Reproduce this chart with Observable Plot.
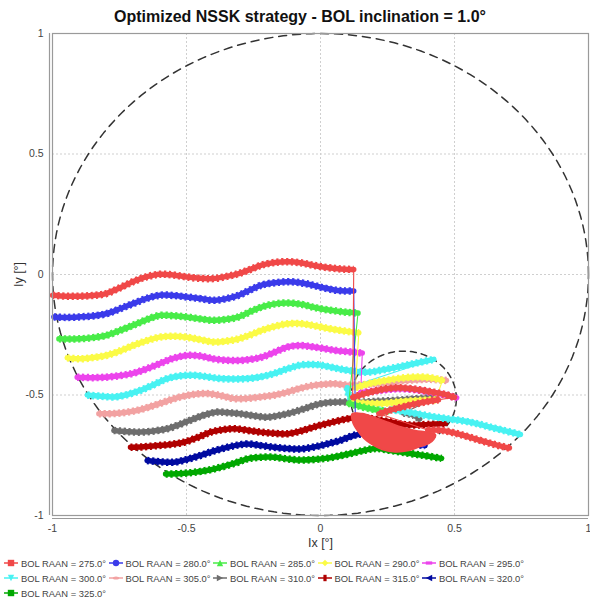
<!DOCTYPE html>
<html>
<head>
<meta charset="utf-8">
<script src="https://cdn.jsdelivr.net/npm/d3@7"></script>
<script src="https://cdn.jsdelivr.net/npm/@observablehq/plot@0.6"></script>
<style>
  body { margin: 0; background: #fff; }
  #wrap { position: relative; width: 590px; height: 601px; font-family: "Liberation Sans", Arial, sans-serif; overflow: hidden; }
  #title { position: absolute; left: 5px; width: 590px; top: 7px; line-height: 20px; text-align: center; font-weight: bold; font-size: 16px; color: #111; }
  #chart { position: absolute; left: 0; top: 26px; }
  .leg { position: absolute; height: 12px; display: flex; align-items: center; font-size: 9.4px; color: #444; white-space: nowrap; }
  .leg svg { margin-right: 3px; }
</style>
</head>
<body>
<div id="wrap">
  <div id="title">Optimized NSSK strategy - BOL inclination = 1.0°</div>
  <div id="chart"></div>
  <div id="legend"></div>
</div>
<script>
// Series labels, colours and legend marker shapes
const raanLabels = ["275.0", "280.0", "285.0", "290.0", "295.0", "300.0", "305.0", "310.0", "315.0", "320.0", "325.0"];
const seriesColors = ["#f04848", "#3b3bea", "#48ec48", "#fbfb46", "#ec44ec", "#48f2f2", "#f2a2a2", "#6e6e6e", "#b00000", "#000aa0", "#00a800"];
const markerShapes = ["square", "circle", "triangle-up", "diamond", "rect-h", "triangle-down", "ellipse-h", "triangle-right", "rect-v", "triangle-left", "square"];

// Axis ticks and grid
const xTicks = [-1, -0.5, 0, 0.5, 1];
const yTicks = [-1, -0.5, 0, 0.5, 1];
const gridValues = [-0.5, 0, 0.5];

// Inclination limit circle and the deadband circle (Ix, Iy in degrees)
const limitCircle = {cx: 0, cy: 0, r: 1};
const deadbandCircle = {cx: 0.31, cy: -0.515, r: 0.197};

// Inclination vector tracks [Ix, Iy], one list of segments per BOL RAAN
const track275 = [
  [[-1.00,-0.086],[-0.95,-0.09],[-0.90,-0.09],[-0.85,-0.087],[-0.80,-0.079],[-0.75,-0.056],[-0.70,-0.03],[-0.65,-0.01],[-0.60,0.001],[-0.55,-0.002],[-0.50,-0.01],[-0.45,-0.016],[-0.40,-0.017],[-0.35,-0.008],[-0.305,0.004],[-0.26,0.022],[-0.22,0.039],[-0.17,0.05],[-0.12,0.053],[-0.07,0.048],[-0.03,0.039],[0.01,0.031],[0.056,0.025],[0.09,0.022],[0.124,0.021]],
  [[0.12,-0.51],[0.18,-0.49],[0.243,-0.474],[0.30,-0.47],[0.367,-0.478],[0.42,-0.488],[0.466,-0.498],[0.50,-0.51]],
  [[0.44,-0.52],[0.40,-0.527],[0.35,-0.538],[0.305,-0.55],[0.26,-0.563],[0.218,-0.578]],
  [[0.40,-0.645],[0.448,-0.646],[0.49,-0.655],[0.535,-0.668],[0.58,-0.683],[0.622,-0.697],[0.665,-0.71],[0.705,-0.72]]
];
const blob275 = [[0.118,-0.578],[0.156,-0.577],[0.205,-0.594],[0.255,-0.614],[0.305,-0.634],[0.354,-0.647],[0.398,-0.654],[0.429,-0.664],[0.423,-0.684],[0.404,-0.702],[0.367,-0.716],[0.33,-0.73],[0.28,-0.736],[0.23,-0.726],[0.193,-0.706],[0.162,-0.68],[0.137,-0.647],[0.12,-0.612]];
const track280 = [
  [[-0.995,-0.176],[-0.95,-0.178],[-0.90,-0.176],[-0.85,-0.172],[-0.80,-0.163],[-0.75,-0.143],[-0.70,-0.121],[-0.65,-0.10],[-0.60,-0.086],[-0.55,-0.087],[-0.50,-0.093],[-0.45,-0.10],[-0.40,-0.107],[-0.35,-0.10],[-0.305,-0.086],[-0.26,-0.063],[-0.22,-0.044],[-0.17,-0.034],[-0.12,-0.03],[-0.07,-0.035],[-0.03,-0.044],[0.01,-0.055],[0.056,-0.065],[0.09,-0.068],[0.124,-0.068]],
  [[0.13,-0.60],[0.20,-0.65],[0.30,-0.69],[0.385,-0.705]]
];
const track285 = [
  [[-0.976,-0.267],[-0.94,-0.268],[-0.90,-0.267],[-0.85,-0.262],[-0.80,-0.253],[-0.75,-0.233],[-0.70,-0.211],[-0.65,-0.188],[-0.60,-0.17],[-0.55,-0.171],[-0.50,-0.176],[-0.45,-0.184],[-0.40,-0.19],[-0.35,-0.186],[-0.305,-0.176],[-0.26,-0.153],[-0.22,-0.135],[-0.17,-0.122],[-0.12,-0.118],[-0.07,-0.124],[-0.03,-0.135],[0.01,-0.144],[0.056,-0.151],[0.10,-0.157],[0.14,-0.16]],
  [[0.105,-0.535],[0.15,-0.548],[0.20,-0.56],[0.25,-0.57]]
];
const track290 = [
  [[-0.945,-0.346],[-0.90,-0.35],[-0.85,-0.345],[-0.80,-0.336],[-0.75,-0.318],[-0.70,-0.295],[-0.65,-0.275],[-0.60,-0.26],[-0.55,-0.256],[-0.50,-0.26],[-0.45,-0.27],[-0.40,-0.28],[-0.35,-0.276],[-0.305,-0.267],[-0.26,-0.25],[-0.22,-0.232],[-0.17,-0.215],[-0.12,-0.204],[-0.07,-0.204],[-0.03,-0.211],[0.01,-0.22],[0.056,-0.229],[0.10,-0.236],[0.143,-0.242]],
  [[0.13,-0.47],[0.19,-0.45],[0.243,-0.44],[0.30,-0.43],[0.367,-0.425],[0.42,-0.43],[0.455,-0.44]],
  [[0.43,-0.52],[0.38,-0.522],[0.33,-0.525],[0.28,-0.53],[0.23,-0.535],[0.17,-0.535],[0.12,-0.53]]
];
const track295 = [
  [[-0.908,-0.426],[-0.85,-0.428],[-0.80,-0.426],[-0.75,-0.42],[-0.70,-0.41],[-0.65,-0.392],[-0.60,-0.37],[-0.55,-0.348],[-0.50,-0.336],[-0.45,-0.338],[-0.40,-0.35],[-0.35,-0.356],[-0.305,-0.357],[-0.26,-0.352],[-0.22,-0.343],[-0.17,-0.322],[-0.12,-0.30],[-0.07,-0.295],[-0.03,-0.30],[0.01,-0.307],[0.056,-0.315],[0.10,-0.32],[0.156,-0.326]],
  [[0.15,-0.49],[0.243,-0.478],[0.30,-0.474],[0.367,-0.48],[0.42,-0.49],[0.466,-0.50],[0.508,-0.512]]
];
const track300 = [
  [[-0.87,-0.50],[-0.82,-0.505],[-0.77,-0.508],[-0.72,-0.498],[-0.67,-0.48],[-0.62,-0.456],[-0.572,-0.432],[-0.52,-0.42],[-0.473,-0.418],[-0.42,-0.425],[-0.373,-0.432],[-0.32,-0.434],[-0.273,-0.432],[-0.22,-0.424],[-0.174,-0.411],[-0.125,-0.392],[-0.075,-0.376],[-0.03,-0.373],[0.0,-0.376],[0.045,-0.386],[0.087,-0.395],[0.13,-0.402],[0.18,-0.405],[0.24,-0.394],[0.305,-0.38],[0.36,-0.367],[0.423,-0.352]],
  [[0.10,-0.47],[0.105,-0.495],[0.115,-0.52]],
  [[0.26,-0.56],[0.30,-0.567],[0.35,-0.576],[0.41,-0.588],[0.47,-0.598],[0.535,-0.608],[0.58,-0.618],[0.622,-0.63],[0.68,-0.646],[0.746,-0.664]]
];
const track305 = [
  [[-0.827,-0.578],[-0.77,-0.577],[-0.72,-0.571],[-0.67,-0.56],[-0.62,-0.543],[-0.57,-0.524],[-0.522,-0.508],[-0.47,-0.497],[-0.423,-0.494],[-0.37,-0.503],[-0.323,-0.515],[-0.27,-0.514],[-0.224,-0.508],[-0.17,-0.50],[-0.124,-0.488],[-0.075,-0.472],[-0.025,-0.46],[0.02,-0.455],[0.05,-0.453],[0.112,-0.46],[0.18,-0.455],[0.26,-0.445],[0.34,-0.438],[0.41,-0.435],[0.47,-0.44]]
];
const track310 = [
  [[-0.771,-0.647],[-0.72,-0.652],[-0.672,-0.654],[-0.62,-0.649],[-0.572,-0.64],[-0.52,-0.62],[-0.473,-0.599],[-0.43,-0.582],[-0.385,-0.571],[-0.34,-0.574],[-0.30,-0.578],[-0.25,-0.586],[-0.199,-0.592],[-0.15,-0.584],[-0.10,-0.571],[-0.05,-0.553],[0.0,-0.536],[0.045,-0.53],[0.087,-0.529],[0.13,-0.53],[0.20,-0.527],[0.28,-0.522],[0.35,-0.516],[0.43,-0.51]],
  [[0.31,-0.575],[0.35,-0.585],[0.37,-0.60]]
];
const track315 = [
  [[-0.709,-0.717],[-0.66,-0.715],[-0.609,-0.71],[-0.56,-0.705],[-0.51,-0.696],[-0.46,-0.677],[-0.41,-0.654],[-0.365,-0.644],[-0.323,-0.64],[-0.27,-0.647],[-0.224,-0.654],[-0.175,-0.659],[-0.124,-0.661],[-0.075,-0.65],[-0.025,-0.633],[0.03,-0.617],[0.10,-0.599],[0.15,-0.592],[0.20,-0.60],[0.26,-0.612],[0.31,-0.622],[0.35,-0.625],[0.40,-0.622],[0.466,-0.618]]
];
const track320 = [
  [[-0.647,-0.772],[-0.60,-0.777],[-0.547,-0.779],[-0.50,-0.768],[-0.448,-0.751],[-0.40,-0.733],[-0.348,-0.717],[-0.31,-0.708],[-0.273,-0.703],[-0.22,-0.71],[-0.174,-0.717],[-0.125,-0.722],[-0.075,-0.724],[-0.025,-0.716],[0.025,-0.703],[0.075,-0.688],[0.124,-0.668],[0.17,-0.66],[0.25,-0.68],[0.33,-0.70],[0.39,-0.71]]
];
const track325 = [
  [[-0.578,-0.828],[-0.52,-0.826],[-0.473,-0.821],[-0.42,-0.812],[-0.373,-0.80],[-0.32,-0.783],[-0.273,-0.765],[-0.22,-0.758],[-0.174,-0.758],[-0.125,-0.765],[-0.075,-0.77],[-0.025,-0.768],[0.025,-0.762],[0.075,-0.752],[0.124,-0.74],[0.17,-0.728],[0.21,-0.722],[0.26,-0.73],[0.305,-0.738],[0.38,-0.75],[0.452,-0.763]]
];

const tracks = [track275, track280, track285, track290, track295, track300, track305, track310, track315, track320, track325];
const filled = {"275.0": blob275};

// Flatten each series into rows; seg keeps the thick pieces apart
function rowsFor(i) {
  const raan = raanLabels[i];
  const rows = [];
  tracks[i].forEach((seg, k) => seg.forEach(([x, y]) => rows.push({raan, seg: raan + "/" + k, x, y})));
  return rows;
}

function ring(c) {
  return d3.range(0, 361, 2).map(a => ({x: c.cx + c.r * Math.cos(a * Math.PI / 180), y: c.cy + c.r * Math.sin(a * Math.PI / 180)}));
}

// Series are rendered last-to-first so the first series sits on top
const seriesMarks = [];
for (let i = raanLabels.length - 1; i >= 0; i--) {
  const rows = rowsFor(i);
  seriesMarks.push(
    Plot.line(rows, {x: "x", y: "y", z: "raan", stroke: "raan", strokeWidth: 1.1}),
    Plot.line(rows, {x: "x", y: "y", z: "seg", stroke: "raan", strokeWidth: 5.5, curve: "catmull-rom"}),
    Plot.line(rows, {x: "x", y: "y", z: "seg", stroke: "raan", strokeWidth: 7.5, strokeDasharray: "2.2,2.6", strokeLinecap: "butt", curve: "catmull-rom"})
  );
  const blob = filled[raanLabels[i]];
  if (blob) {
    seriesMarks.push(Plot.line(blob.map(([x, y]) => ({raan: raanLabels[i], x, y})),
      {x: "x", y: "y", stroke: "raan", fill: "raan", strokeWidth: 1.5, curve: "catmull-rom-closed"}));
  }
}

const axisColor = "#9a9a9a";
const chart = Plot.plot({
  width: 590,
  height: 526,
  marginLeft: 52,
  marginRight: 2,
  marginTop: 7,
  marginBottom: 37,
  style: {fontFamily: "'Liberation Sans', Arial, sans-serif", fontSize: "10.5px", color: "#444", background: "white", overflow: "visible"},
  x: {domain: [-1, 1], ticks: xTicks, tickFormat: d => String(d), tickSize: 0, tickPadding: 9, label: null},
  y: {domain: [-1, 1], ticks: yTicks, tickFormat: d => String(d), tickSize: 0, tickPadding: 9, label: null},
  color: {domain: raanLabels, range: seriesColors},
  marks: [
    Plot.ruleX(gridValues, {stroke: "#cfcfcf", strokeDasharray: "2,2"}),
    Plot.ruleY(gridValues, {stroke: "#cfcfcf", strokeDasharray: "2,2"}),
    Plot.line(ring(limitCircle), {x: "x", y: "y", stroke: "#333", strokeWidth: 1.5, strokeDasharray: "8,6"}),
    Plot.line(ring(deadbandCircle), {x: "x", y: "y", stroke: "#333", strokeWidth: 1.5, strokeDasharray: "6,5"}),
    ...seriesMarks,
    Plot.frame({stroke: axisColor, strokeWidth: 1.2}),
    Plot.ruleX([-1], {dx: -3, stroke: axisColor, strokeWidth: 1.2}),
    Plot.ruleY([-1], {dy: 3, stroke: axisColor, strokeWidth: 1.2}),
    Plot.text(["Ix [°]"], {text: d => d, frameAnchor: "bottom", dy: 31, fontSize: 12.5, fill: "#333"}),
    Plot.text(["Iy [°]"], {text: d => d, frameAnchor: "left", dx: -34, rotate: -90, textAnchor: "middle", fontSize: 12.5, fill: "#333"})
  ]
});
document.getElementById("chart").appendChild(chart);

// Legend: line sample with the series marker shape, five per row
function shapeSvg(shape, color) {
  const c = 7, s = 3.2;
  let el;
  switch (shape) {
    case "square": el = `<rect x="${c - s}" y="${5 - s}" width="${2 * s}" height="${2 * s}"/>`; break;
    case "circle": el = `<circle cx="${c}" cy="5" r="${s}"/>`; break;
    case "triangle-up": el = `<polygon points="${c},${5 - s} ${c + s},${5 + s} ${c - s},${5 + s}"/>`; break;
    case "triangle-down": el = `<polygon points="${c},${5 + s} ${c + s},${5 - s} ${c - s},${5 - s}"/>`; break;
    case "triangle-right": el = `<polygon points="${c + s},5 ${c - s},${5 - s} ${c - s},${5 + s}"/>`; break;
    case "triangle-left": el = `<polygon points="${c - s},5 ${c + s},${5 - s} ${c + s},${5 + s}"/>`; break;
    case "diamond": el = `<polygon points="${c},${5 - s} ${c + s},5 ${c},${5 + s} ${c - s},5"/>`; break;
    case "rect-h": el = `<rect x="${c - s}" y="${5 - s / 2}" width="${2 * s}" height="${s}"/>`; break;
    case "rect-v": el = `<rect x="${c - s / 2}" y="${5 - s}" width="${s}" height="${2 * s}"/>`; break;
    case "ellipse-h": el = `<ellipse cx="${c}" cy="5" rx="${s}" ry="${s / 2}"/>`; break;
  }
  return `<svg width="14" height="10"><line x1="0" x2="14" y1="5" y2="5" stroke="${color}" stroke-width="1.5"/><g fill="${color}">${el}</g></svg>`;
}
const legend = document.getElementById("legend");
raanLabels.forEach((lab, i) => {
  const row = Math.floor(i / 5), col = i % 5;
  const item = document.createElement("div");
  item.className = "leg";
  item.style.left = (4 + col * 104.5) + "px";
  item.style.top = (557 + row * 15) + "px";
  item.innerHTML = shapeSvg(markerShapes[i], seriesColors[i]) + `<span>BOL RAAN = ${lab}°</span>`;
  legend.appendChild(item);
});
</script>
</body>
</html>
